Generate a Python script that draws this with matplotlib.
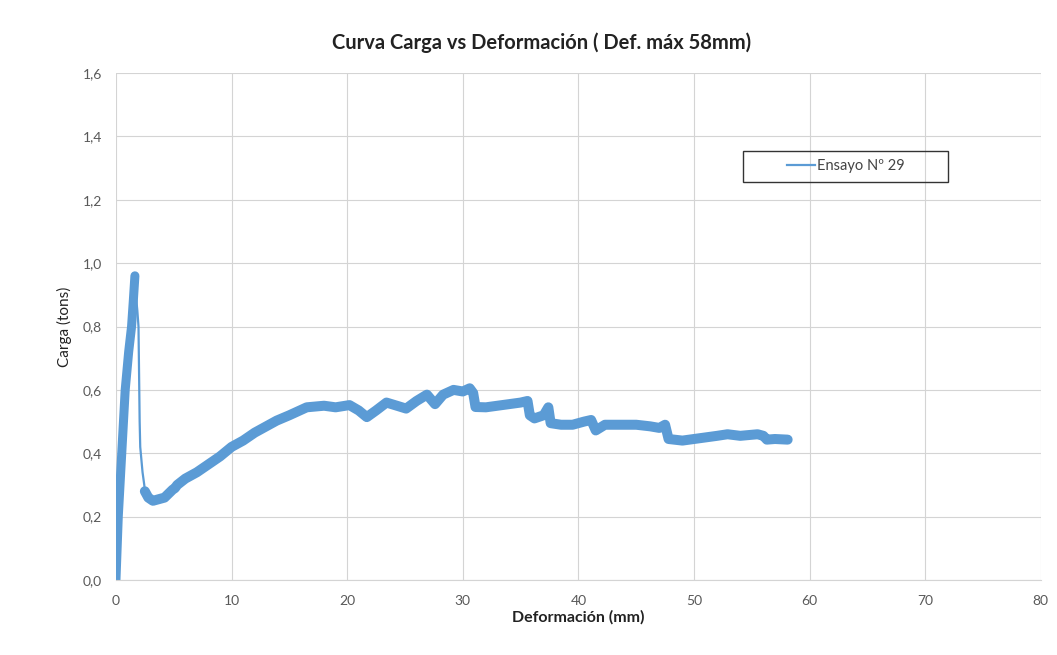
import matplotlib
matplotlib.use("Agg")
import matplotlib.pyplot as plt
from matplotlib.patches import Rectangle

plt.rcParams['font.family'] = ['Lato', 'DejaVu Sans']

# Curva carga-deformacion
deformacion = [0, 0.2, 0.5, 0.8, 1.1, 1.35, 1.5, 1.64,
               1.72, 1.85, 1.95, 2.0, 2.05, 2.1, 2.3, 2.45,
               2.5, 2.8, 3.2, 3.7, 4.2, 4.9, 5.1, 5.3, 6.0, 7.0, 8.0, 9.0,
               10.0, 11.0, 12.0, 13.0, 13.9, 15.0, 16.5, 18.0, 19.0, 20.2,
               21.0, 21.7, 22.5, 23.4, 24.3, 25.1, 26.0, 26.9, 27.6, 28.3,
               29.2, 30.0, 30.6, 30.9, 31.1, 32.0, 33.0, 34.0, 35.0, 35.6,
               35.8, 36.2, 37.0, 37.4, 37.6, 38.5, 39.5, 40.5, 41.1, 41.5,
               42.3, 43.5, 45.0, 46.2, 47.0, 47.5, 47.8, 49.0, 50.0, 51.0,
               52.0, 52.9, 54.0, 55.5, 56.0, 56.3, 57.0, 58.1]
carga = [0.0, 0.2, 0.4, 0.6, 0.72, 0.8, 0.88, 0.96,
         0.90, 0.85, 0.80, 0.65, 0.50, 0.42, 0.34, 0.30,
         0.28, 0.26, 0.25, 0.255, 0.26, 0.285, 0.29, 0.30, 0.32, 0.34, 0.365, 0.39,
         0.42, 0.44, 0.465, 0.485, 0.503, 0.52, 0.545, 0.55, 0.545, 0.552,
         0.535, 0.514, 0.535, 0.56, 0.55, 0.541, 0.565, 0.585, 0.555, 0.585,
         0.60, 0.595, 0.605, 0.59, 0.546, 0.545, 0.55, 0.555, 0.56, 0.565,
         0.52, 0.51, 0.52, 0.545, 0.495, 0.49, 0.49, 0.50, 0.505, 0.472,
         0.49, 0.49, 0.49, 0.485, 0.48, 0.49, 0.445, 0.44, 0.445, 0.45,
         0.455, 0.46, 0.455, 0.46, 0.455, 0.443, 0.445, 0.443]
i_pico = 7      # fin de la subida (banda gruesa)
i_valle = 16    # inicio de la zona post-caida (banda gruesa)

x_ticks = [0, 10, 20, 30, 40, 50, 60, 70, 80]
y_ticks = [0.0, 0.2, 0.4, 0.6, 0.8, 1.0, 1.2, 1.4, 1.6]
y_tick_labels = ['0,0', '0,2', '0,4', '0,6', '0,8', '1,0', '1,2', '1,4', '1,6']

azul = '#5b9bd5'
gris = '#d4d4d4'

fig = plt.figure(figsize=(10.57, 6.55), dpi=100)
ax = fig.add_axes([0.1097, 0.1145, 0.875, 0.774])

ax.plot(deformacion, carga, color=azul, lw=1.6, label='Ensayo Nº 29')
# el ruido de la medicion hace que la curva se vea como una banda gruesa
ax.plot(deformacion[:i_pico + 1], carga[:i_pico + 1], color=azul, lw=6.5,
        solid_joinstyle='round', solid_capstyle='round')
ax.plot(deformacion[i_valle:], carga[i_valle:], color=azul, lw=7.2,
        solid_joinstyle='round', solid_capstyle='round')

ax.set_xlim(0, 80)
ax.set_ylim(0, 1.6)
ax.set_xticks(x_ticks)
ax.set_yticks(y_ticks, labels=y_tick_labels)
ax.tick_params(length=0, labelsize=10, labelcolor='#595959')
ax.tick_params(axis='y', pad=10)
ax.tick_params(axis='x', pad=11)
ax.grid(True, color=gris, lw=0.8)
ax.set_axisbelow(True)
for s in ['top', 'right', 'left']:
    ax.spines[s].set_visible(False)
ax.spines['bottom'].set_color(gris)

ax.set_xlabel('Deformación (mm)', fontsize=11.5, fontweight='bold', color='#222222', labelpad=2)
ax.set_ylabel('Carga (tons)', fontsize=11, color='#222222', labelpad=8)
fig.suptitle('Curva Carga vs Deformación ( Def. máx 58mm)', x=0.512, y=0.95,
             fontsize=14.5, fontweight='bold', color='#222222')

# leyenda centrada dentro de un recuadro mas ancho, como en Excel
leg = ax.legend(loc='center', bbox_to_anchor=(0.789, 0.8165), fontsize=10.5,
                frameon=False, handlelength=1.9, handletextpad=0.15)
for t in leg.get_texts():
    t.set_color('#444444')
ax.add_patch(Rectangle((0.678, 0.786), 0.222, 0.06, transform=ax.transAxes,
                       fill=False, ec='#333333', lw=1.0, zorder=6))

fig.savefig('out.png', dpi=100)
